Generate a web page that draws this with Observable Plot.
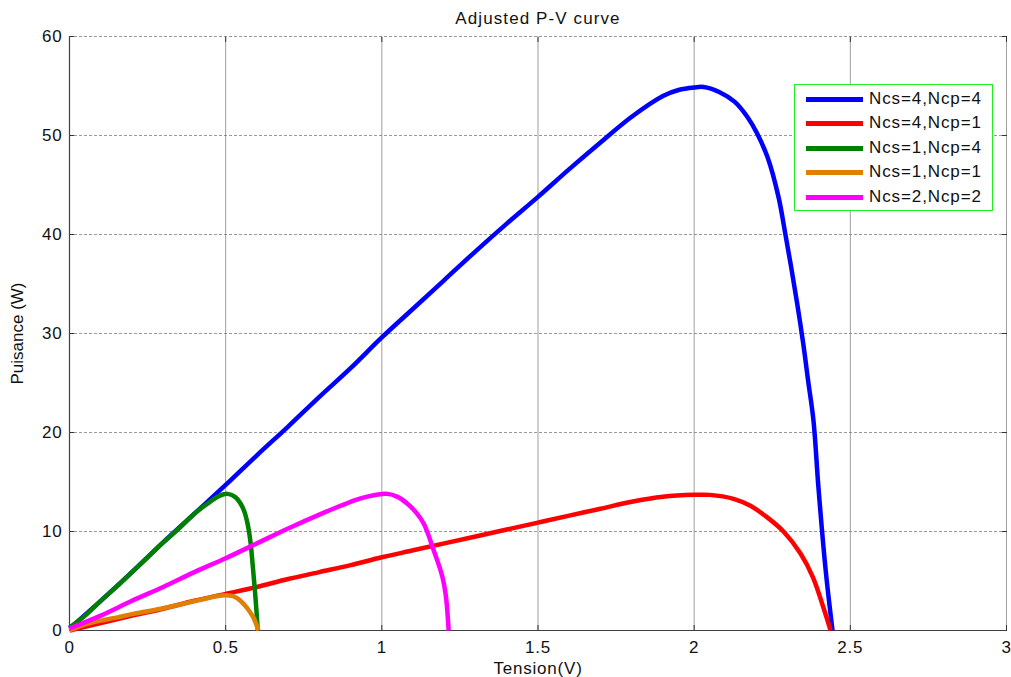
<!DOCTYPE html>
<html>
<head>
<meta charset="utf-8">
<script src="https://cdn.jsdelivr.net/npm/d3@7"></script>
<script src="https://cdn.jsdelivr.net/npm/@observablehq/plot@0.6"></script>
<style>
  html, body { margin: 0; padding: 0; background: #fff; }
  #wrap { position: relative; width: 1011px; height: 677px; font-family: "Liberation Sans", Arial, sans-serif; }
  #legend { position: absolute; left: 794px; top: 84px; width: 199px; height: 127px; border: 1.5px solid #22ee22; background: #fff; box-sizing: border-box; }
  .lrow { position: absolute; left: 0; height: 20px; display: flex; align-items: center; }
  .lsw { width: 57px; height: 5px; margin-left: 11px; margin-right: 6px; }
  .ltx { font-size: 17px; letter-spacing: 0.9px; color: #111; white-space: nowrap; }
</style>
</head>
<body>
<div id="wrap"></div>
<script>
// ---- data ----
const seriesNames = ["Ncs=4,Ncp=4", "Ncs=4,Ncp=1", "Ncs=1,Ncp=4", "Ncs=1,Ncp=1", "Ncs=2,Ncp=2"];
const seriesColors = ["#0000ff", "#ff0000", "#008000", "#e07f00", "#ff00ff"];

const vBlue = [0, 0.1, 0.2, 0.3, 0.4, 0.5, 0.6, 0.7, 0.8, 0.9, 1.0, 1.1, 1.2, 1.3, 1.4, 1.5, 1.6, 1.7, 1.8, 1.9, 1.95, 2.0, 2.03, 2.08, 2.13, 2.17, 2.2, 2.235, 2.27, 2.29, 2.31, 2.33, 2.35, 2.365, 2.382, 2.398, 2.421, 2.443];
const pBlue = [0.2, 3.0, 5.9, 8.9, 11.8, 14.7, 17.7, 20.6, 23.6, 26.5, 29.6, 32.5, 35.4, 38.3, 41.1, 43.8, 46.6, 49.3, 51.9, 54.0, 54.6, 54.85, 54.9, 54.4, 53.4, 51.9, 50.3, 47.8, 43.8, 40.4, 36.8, 33.0, 28.8, 25.2, 21.2, 14.4, 6.1, 0];

const vRed = [0, 0.1, 0.2, 0.3, 0.4, 0.5, 0.6, 0.7, 0.8, 0.9, 1.0, 1.1, 1.2, 1.3, 1.4, 1.5, 1.6, 1.7, 1.8, 1.9, 2.0, 2.05, 2.126, 2.18, 2.235, 2.286, 2.34, 2.38, 2.414, 2.437];
const pRed = [0, 0.75, 1.5, 2.2, 3.0, 3.7, 4.4, 5.2, 5.9, 6.6, 7.4, 8.1, 8.8, 9.5, 10.2, 10.9, 11.6, 12.3, 13.0, 13.5, 13.7, 13.7, 13.3, 12.6, 11.4, 10.0, 7.8, 5.4, 2.3, 0];

const vGreen = [0, 0.05, 0.1, 0.15, 0.2, 0.25, 0.3, 0.35, 0.4, 0.45, 0.48, 0.506, 0.53, 0.548, 0.56, 0.57, 0.58, 0.586, 0.595, 0.603];
const pGreen = [0.3, 1.5, 3.0, 4.4, 5.9, 7.4, 8.9, 10.3, 11.8, 13.0, 13.6, 13.8, 13.5, 12.8, 12.0, 10.8, 8.8, 6.8, 3.5, 0];

const vOrange = [0, 0.03, 0.06, 0.1, 0.15, 0.2, 0.26, 0.3, 0.35, 0.42, 0.47, 0.5, 0.52, 0.54, 0.557, 0.575, 0.589, 0.605];
const pOrange = [0, 0.4, 0.7, 1.0, 1.3, 1.65, 2.0, 2.25, 2.6, 3.1, 3.45, 3.55, 3.5, 3.2, 2.7, 2.0, 1.3, 0];

const vMagenta = [0, 0.1, 0.2, 0.3, 0.4, 0.5, 0.6, 0.7, 0.8, 0.9, 0.95, 1.018, 1.05, 1.082, 1.11, 1.134, 1.166, 1.194, 1.205, 1.214];
const pMagenta = [0.2, 1.5, 3.0, 4.4, 5.9, 7.3, 8.8, 10.3, 11.7, 13.0, 13.5, 13.8, 13.5, 12.8, 11.9, 10.8, 8.1, 5.4, 3.5, 0];

const xTicks = [0, 0.5, 1, 1.5, 2, 2.5, 3];
const yTicks = [0, 10, 20, 30, 40, 50, 60];
const titleText = "Adjusted P-V curve";
const xLabel = "Tension(V)";
const yLabel = "Puisance (W)";

// ---- build table ----
const vs = [vBlue, vRed, vGreen, vOrange, vMagenta];
const ps = [pBlue, pRed, pGreen, pOrange, pMagenta];
const rows = [];
seriesNames.forEach((name, i) => {
  vs[i].forEach((v, j) => rows.push({series: name, V: v, P: ps[i][j]}));
});

const fontFam = '"Liberation Sans", Arial, sans-serif';
const chart = Plot.plot({
  width: 1011,
  height: 677,
  marginLeft: 69,
  marginRight: 5,
  marginTop: 36,
  marginBottom: 47,
  style: {fontFamily: fontFam, fontSize: "17px", color: "#111", background: "#fff", overflow: "visible"},
  x: {domain: [0, 3]},
  y: {domain: [0, 60]},
  color: {domain: seriesNames, range: seriesColors},
  marks: [
    Plot.gridX(xTicks, {stroke: "#888", strokeOpacity: 0.8, strokeWidth: 1}),
    Plot.gridY(yTicks, {stroke: "#555", strokeOpacity: 0.6, strokeDasharray: "3,2", strokeWidth: 1}),
    Plot.axisX(xTicks, {tickSize: -5, tickPadding: 15, stroke: "#333", tickFormat: d => String(d), label: xLabel, labelAnchor: "center", labelOffset: 43, labelArrow: "none", fontSize: 17}),
    Plot.axisX(xTicks, {anchor: "top", tickSize: -5, stroke: "#333", tickFormat: () => "", label: null}),
    Plot.axisY(yTicks, {tickSize: -5, tickPadding: 12, stroke: "#333", tickFormat: d => String(d), label: yLabel, labelAnchor: "center", labelOffset: 59, labelArrow: "none", fontSize: 17}),
    Plot.axisY(yTicks, {anchor: "right", tickSize: -5, stroke: "#333", tickFormat: () => "", label: null}),
    Plot.ruleY([0], {stroke: "#404040", strokeWidth: 1.2}),
    Plot.ruleX([0], {stroke: "#404040", strokeWidth: 1.2}),
    Plot.line(rows, {x: "V", y: "P", z: "series", stroke: "series", strokeWidth: 4.5, strokeLinejoin: "round", strokeLinecap: "butt", curve: "catmull-rom"}),
    Plot.text([titleText], {frameAnchor: "top", dy: -25, fontSize: 17, fill: "#111"})
  ]
});

// horizontal widening of text as in the reference (except the vertical label)
d3.select(chart).selectAll("text").each(function () {
  const t = d3.select(this);
  const txt = t.text();
  if (txt === yLabel) t.style("letter-spacing", "0px");
  else if (txt === titleText) t.style("letter-spacing", "1.1px");
  else t.style("letter-spacing", "0.8px");
});

const wrap = document.getElementById("wrap");
wrap.appendChild(chart);

// legend (HTML overlay)
const leg = document.createElement("div");
leg.id = "legend";
const rowTops = [4, 28, 53, 77, 102];
seriesNames.forEach((name, i) => {
  const r = document.createElement("div");
  r.className = "lrow";
  r.style.top = rowTops[i] + "px";
  const sw = document.createElement("div");
  sw.className = "lsw";
  sw.style.background = seriesColors[i];
  const tx = document.createElement("span");
  tx.className = "ltx";
  tx.textContent = name;
  r.appendChild(sw);
  r.appendChild(tx);
  leg.appendChild(r);
});
wrap.appendChild(leg);
</script>
</body>
</html>
